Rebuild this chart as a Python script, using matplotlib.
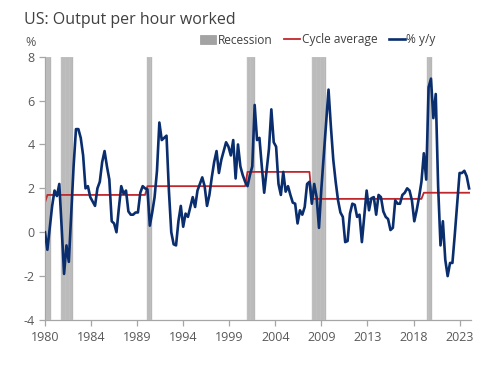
import matplotlib
matplotlib.use("Agg")
import matplotlib.pyplot as plt
import numpy as np
from matplotlib.patches import Patch
from matplotlib.lines import Line2D

plt.rcParams['font.family'] = ['Open Sans', 'DejaVu Sans']
plt.rcParams['axes.unicode_minus'] = False

# Quarterly series starting 1980Q1
start_year = 1980
yoy = [
    0.0, -0.8, 0.2, 1.2, 1.9, 1.65, 2.2, 0.2, -1.9, -0.6,
    -1.35, 0.8, 3.0, 4.7, 4.7, 4.3, 3.5, 2.0, 2.1, 1.6,
    1.4, 1.2, 2.0, 2.3, 3.2, 3.7, 3.0, 2.4, 0.5, 0.4,
    0.0, 1.1, 2.1, 1.75, 1.9, 0.95, 0.8, 0.8, 0.9, 0.9,
    1.8, 2.1, 2.0, 1.95, 0.3, 0.9, 1.6, 2.8, 5.0, 4.2,
    4.3, 4.4, 1.9, 0.0, -0.55, -0.6, 0.5, 1.2, 0.25, 0.85,
    0.7, 1.15, 1.6, 1.15, 1.9, 2.2, 2.5, 2.1, 1.2, 1.7,
    2.5, 3.2, 3.7, 2.7, 3.3, 3.7, 4.1, 3.9, 3.5, 4.2,
    2.45, 4.0, 3.0, 2.6, 2.3, 2.1, 2.6, 3.0, 5.8, 4.2,
    4.3, 3.0, 1.8, 2.8, 3.8, 5.6, 4.1, 3.9, 2.2, 1.7,
    2.75, 1.85, 2.1, 1.7, 1.35, 1.3, 0.4, 1.0, 0.8, 1.15,
    2.2, 2.3, 1.3, 2.2, 1.6, 0.2, 2.0, 3.5, 5.0, 6.5,
    4.8, 3.3, 2.3, 1.45, 0.9, 0.7, -0.45, -0.4, 0.85, 1.3,
    1.25, 0.7, 0.8, -0.45, 0.7, 1.9, 1.0, 1.55, 1.6, 0.8,
    1.7, 1.6, 0.95, 0.7, 0.6, 0.1, 0.2, 1.45, 1.3, 1.3,
    1.7, 1.8, 2.0, 1.9, 1.45, 0.5, 1.0, 1.6, 2.3, 3.6,
    2.4, 6.6, 7.0, 5.2, 6.3, 2.1, -0.6, 0.5, -1.25, -2.0,
    -1.4, -1.4, -0.1, 1.3, 2.7, 2.7, 2.8, 2.55, 2.0,
]
cycle_avg = ([1.35] + [1.7] * 42 + [2.1] * 42 + [2.75] * 27
             + [1.52] * 47 + [1.8] * 20)

# Recession periods (year, month) start/end
recessions = [((1980, 1), (1980, 7)), ((1981, 9), (1982, 11)),
              ((1990, 10), (1991, 3)), ((2001, 3), (2001, 12)),
              ((2008, 1), (2009, 6)), ((2020, 2), (2020, 7))]

tick_labels = ['1980', '1984', '1989', '1994', '1999', '2004',
               '2009', '2013', '2018', '2023']

n = len(yoy)
t = start_year + np.arange(n) / 4.0

W, H = 501, 368
fig = plt.figure(figsize=(W / 100, H / 100), dpi=100)
ax = fig.add_axes([45 / W, 1 - 320 / H, 426 / W, 263.3 / H])

rec_col = '#a3a3a3'
for (y0, m0), (y1, m1) in recessions:
    m_start = y0 * 12 + (m0 - 1)
    m_end = y1 * 12 + (m1 - 1)
    months = np.arange(m_start, m_end + 1)
    ax.bar(months / 12.0, 12, bottom=-4, width=1 / 12.0, align='edge',
           color=rec_col, edgecolor='#cccccc', linewidth=0.35, zorder=1)

ax.plot(t, cycle_avg[:n], color='#c0272d', lw=1.3, zorder=2)
ax.plot(t, yoy, color='#0a2d6e', lw=1.9, zorder=3, solid_joinstyle='round')

ax.set_xlim(1980, 2024.7)
ax.set_ylim(-4, 8)
ax.set_yticks([-4, -2, 0, 2, 4, 6, 8])
ticks = 1980 + np.arange(len(tick_labels)) * 58 / 12.0
ax.set_xticks(ticks)
ax.set_xticklabels(tick_labels)

for s in ['top', 'right']:
    ax.spines[s].set_visible(False)
for s in ['left', 'bottom']:
    ax.spines[s].set_color('#a6a6a6')
    ax.spines[s].set_linewidth(0.9)
ax.tick_params(axis='both', colors='#a6a6a6', labelcolor='#595959',
               labelsize=9, length=4, width=0.9)
ax.tick_params(axis='x', pad=4)

fig.text(24 / W, 1 - 20 / H, 'US: Output per hour worked', fontsize=11.5,
         color='#404040', va='center', ha='left')
fig.text(25 / W, 1 - 43 / H, '%', fontsize=9, color='#595959',
         va='center', ha='left')

handles = [Patch(facecolor=rec_col, edgecolor='#999999', linewidth=0.5),
           Line2D([0], [0], color='#c0272d', lw=1.3),
           Line2D([0], [0], color='#0a2d6e', lw=1.9)]
leg = fig.legend(handles, ['Recession', 'Cycle average', '% y/y'],
                 loc='center', bbox_to_anchor=(318 / W, 1 - 40 / H),
                 ncol=3, frameon=False, fontsize=8.6, handlelength=1.3,
                 handletextpad=0.15, columnspacing=1.0,
                 labelcolor='#404040')

fig.savefig('out.png', dpi=100)
